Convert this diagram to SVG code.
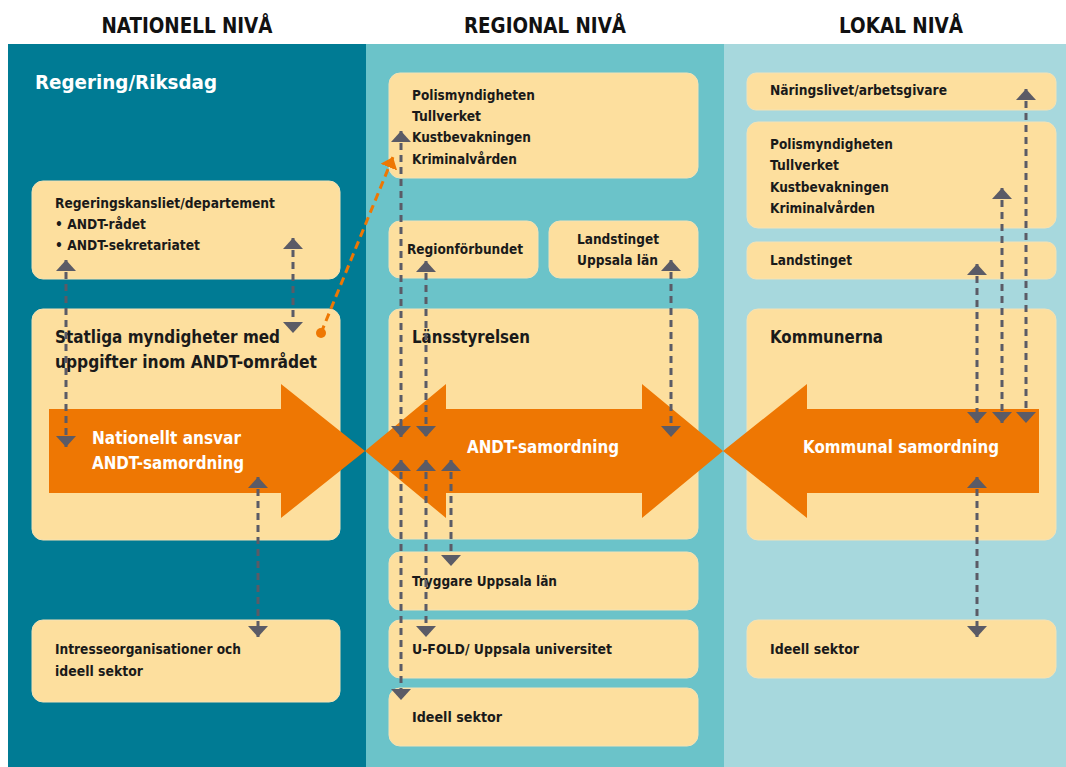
<svg xmlns="http://www.w3.org/2000/svg" width="1066" height="767" viewBox="0 0 1066 767">
<defs>
<style>
.hdr{font-family:"DejaVu Sans Condensed","DejaVu Sans",sans-serif;font-weight:bold;font-size:21px;fill:#111;}
.t{font-family:"DejaVu Sans Condensed","DejaVu Sans",sans-serif;font-weight:bold;font-size:14px;fill:#1a1a1a;}
.tl{font-family:"DejaVu Sans Condensed","DejaVu Sans",sans-serif;font-weight:bold;font-size:18px;fill:#1a1a1a;}
.tw{font-family:"DejaVu Sans Condensed","DejaVu Sans",sans-serif;font-weight:bold;font-size:18px;fill:#fff;}
.box{fill:#FDDF9E;stroke:#F3E2B6;stroke-width:1;}
.arr{fill:#EE7703;}
.c{fill:none;stroke:#5B5B66;stroke-width:3;stroke-dasharray:7 5;marker-start:url(#ah);marker-end:url(#ah);}
</style>
<marker id="ah" viewBox="0 0 11 20" markerWidth="11" markerHeight="20" markerUnits="userSpaceOnUse" refX="11" refY="10" orient="auto-start-reverse">
<path d="M0,0 L11,10 L0,20 Z" fill="#5B5B66"/>
</marker>
<marker id="oh" viewBox="0 0 11 18" markerWidth="11" markerHeight="18" markerUnits="userSpaceOnUse" refX="11" refY="9" orient="auto">
<path d="M0,0 L11,9 L0,18 Z" fill="#EE7703"/>
</marker>
</defs>
<rect x="0" y="0" width="1066" height="767" fill="#fff"/>
<g id="columns">
<rect x="8" y="44" width="358" height="723" fill="#007B94"/>
<rect x="366" y="44" width="358" height="723" fill="#6BC3C9"/>
<rect x="724" y="44" width="342" height="723" fill="#A7D8DD"/>
</g>
<g id="headers">
<text class="hdr" x="187" y="33" text-anchor="middle" textLength="171" lengthAdjust="spacingAndGlyphs">NATIONELL NIVÅ</text>
<text class="hdr" x="545" y="33" text-anchor="middle" textLength="162" lengthAdjust="spacingAndGlyphs">REGIONAL NIVÅ</text>
<text class="hdr" x="901" y="33" text-anchor="middle" textLength="124" lengthAdjust="spacingAndGlyphs">LOKAL NIVÅ</text>
<text x="35" y="89" font-family="DejaVu Sans Condensed, DejaVu Sans, sans-serif" font-weight="bold" font-size="20" fill="#fff" textLength="182" lengthAdjust="spacingAndGlyphs">Regering/Riksdag</text>
</g>
<g id="n-regeringskansliet">
<rect class="box" x="32" y="181" width="308" height="98" rx="11"/>
<text class="t" x="55" y="208" textLength="220" lengthAdjust="spacingAndGlyphs">Regeringskansliet/departement</text>
<text class="t" x="55" y="229" textLength="91" lengthAdjust="spacingAndGlyphs">• ANDT-rådet</text>
<text class="t" x="55" y="250" textLength="145" lengthAdjust="spacingAndGlyphs">• ANDT-sekretariatet</text>
</g>
<g id="n-statliga">
<rect class="box" x="32" y="309" width="308" height="231" rx="11"/>
<text class="tl" x="55" y="343" textLength="225" lengthAdjust="spacingAndGlyphs">Statliga myndigheter med</text>
<text class="tl" x="55" y="368" textLength="262" lengthAdjust="spacingAndGlyphs">uppgifter inom ANDT-området</text>
</g>
<g id="n-intresse">
<rect class="box" x="32" y="620" width="308" height="82" rx="11"/>
<text class="t" x="55" y="654" textLength="186" lengthAdjust="spacingAndGlyphs">Intresseorganisationer och</text>
<text class="t" x="55" y="676" textLength="88" lengthAdjust="spacingAndGlyphs">ideell sektor</text>
</g>
<g id="n-polis-reg">
<rect class="box" x="389" y="73" width="309" height="105" rx="11"/>
<text class="t" x="412" y="100" textLength="123" lengthAdjust="spacingAndGlyphs">Polismyndigheten</text>
<text class="t" x="412" y="121" textLength="69" lengthAdjust="spacingAndGlyphs">Tullverket</text>
<text class="t" x="412" y="142" textLength="119" lengthAdjust="spacingAndGlyphs">Kustbevakningen</text>
<text class="t" x="412" y="164" textLength="105" lengthAdjust="spacingAndGlyphs">Kriminalvården</text>
</g>
<g id="n-regionforbundet">
<rect class="box" x="389" y="221" width="149" height="57" rx="11"/>
<text class="t" x="407" y="254" textLength="116" lengthAdjust="spacingAndGlyphs">Regionförbundet</text>
</g>
<g id="n-landstinget-reg">
<rect class="box" x="549" y="221" width="149" height="57" rx="11"/>
<text class="t" x="577" y="244" textLength="82" lengthAdjust="spacingAndGlyphs">Landstinget</text>
<text class="t" x="577" y="265" textLength="81" lengthAdjust="spacingAndGlyphs">Uppsala län</text>
</g>
<g id="n-lansstyrelsen">
<rect class="box" x="389" y="309" width="309" height="230" rx="11"/>
<text class="tl" x="412" y="343" textLength="118" lengthAdjust="spacingAndGlyphs">Länsstyrelsen</text>
</g>
<g id="n-tryggare">
<rect class="box" x="389" y="552" width="309" height="58" rx="11"/>
<text class="t" x="412" y="586" textLength="145" lengthAdjust="spacingAndGlyphs">Tryggare Uppsala län</text>
</g>
<g id="n-ufold">
<rect class="box" x="389" y="620" width="309" height="58" rx="11"/>
<text class="t" x="412" y="654" textLength="200" lengthAdjust="spacingAndGlyphs">U-FOLD/ Uppsala universitet</text>
</g>
<g id="n-ideell-reg">
<rect class="box" x="389" y="688" width="309" height="58" rx="11"/>
<text class="t" x="412" y="722" textLength="90" lengthAdjust="spacingAndGlyphs">Ideell sektor</text>
</g>
<g id="n-naringslivet">
<rect class="box" x="747" y="73" width="309" height="37" rx="9"/>
<text class="t" x="770" y="95" textLength="177" lengthAdjust="spacingAndGlyphs">Näringslivet/arbetsgivare</text>
</g>
<g id="n-polis-lok">
<rect class="box" x="747" y="122" width="309" height="106" rx="11"/>
<text class="t" x="770" y="149" textLength="123" lengthAdjust="spacingAndGlyphs">Polismyndigheten</text>
<text class="t" x="770" y="170" textLength="69" lengthAdjust="spacingAndGlyphs">Tullverket</text>
<text class="t" x="770" y="192" textLength="119" lengthAdjust="spacingAndGlyphs">Kustbevakningen</text>
<text class="t" x="770" y="213" textLength="105" lengthAdjust="spacingAndGlyphs">Kriminalvården</text>
</g>
<g id="n-landstinget-lok">
<rect class="box" x="747" y="242" width="309" height="37" rx="9"/>
<text class="t" x="770" y="265" textLength="82" lengthAdjust="spacingAndGlyphs">Landstinget</text>
</g>
<g id="n-kommunerna">
<rect class="box" x="747" y="309" width="309" height="231" rx="11"/>
<text class="tl" x="770" y="343" textLength="113" lengthAdjust="spacingAndGlyphs">Kommunerna</text>
</g>
<g id="n-ideell-lok">
<rect class="box" x="747" y="620" width="309" height="58" rx="11"/>
<text class="t" x="770" y="654" textLength="89" lengthAdjust="spacingAndGlyphs">Ideell sektor</text>
</g>
<g id="n-arrow-nationellt">
<path class="arr" d="M49,409 L281,409 L281,384 L365,451 L281,518 L281,493 L49,493 Z"/>
<text class="tw" x="92" y="444" textLength="149" lengthAdjust="spacingAndGlyphs">Nationellt ansvar</text>
<text class="tw" x="92" y="469" textLength="152" lengthAdjust="spacingAndGlyphs">ANDT-samordning</text>
</g>
<g id="n-arrow-regional">
<path class="arr" d="M365,451 L446,384 L446,409 L642,409 L642,384 L723,451 L642,518 L642,493 L446,493 L446,518 Z"/>
<text class="tw" x="467" y="453" textLength="152" lengthAdjust="spacingAndGlyphs">ANDT-samordning</text>
</g>
<g id="n-arrow-kommunal">
<path class="arr" d="M723,451 L807,384 L807,409 L1039,409 L1039,493 L807,493 L807,518 Z"/>
<text class="tw" x="803" y="453" textLength="196" lengthAdjust="spacingAndGlyphs">Kommunal samordning</text>
</g>
<g id="connectors">
<line class="c" x1="66" y1="260" x2="66" y2="447"/>
<line class="c" x1="293" y1="238" x2="293" y2="333"/>
<line class="c" x1="258" y1="477" x2="258" y2="637"/>
<line class="c" x1="401" y1="131" x2="401" y2="437"/>
<line class="c" x1="401" y1="460" x2="401" y2="700"/>
<line class="c" x1="426" y1="261" x2="426" y2="437"/>
<line class="c" x1="426" y1="460" x2="426" y2="637"/>
<line class="c" x1="451" y1="460" x2="451" y2="566"/>
<line class="c" x1="671" y1="260" x2="671" y2="437"/>
<line class="c" x1="977" y1="264" x2="977" y2="423"/>
<line class="c" x1="977" y1="477" x2="977" y2="637"/>
<line class="c" x1="1002" y1="188" x2="1002" y2="423"/>
<line class="c" x1="1026" y1="89" x2="1026" y2="423"/>
<line x1="321" y1="333" x2="393" y2="157" fill="none" stroke="#EE7703" stroke-width="3" stroke-dasharray="8 5" marker-end="url(#oh)"/>
<circle cx="321" cy="333" r="5" fill="#EE7703"/>
</g>
</svg>
